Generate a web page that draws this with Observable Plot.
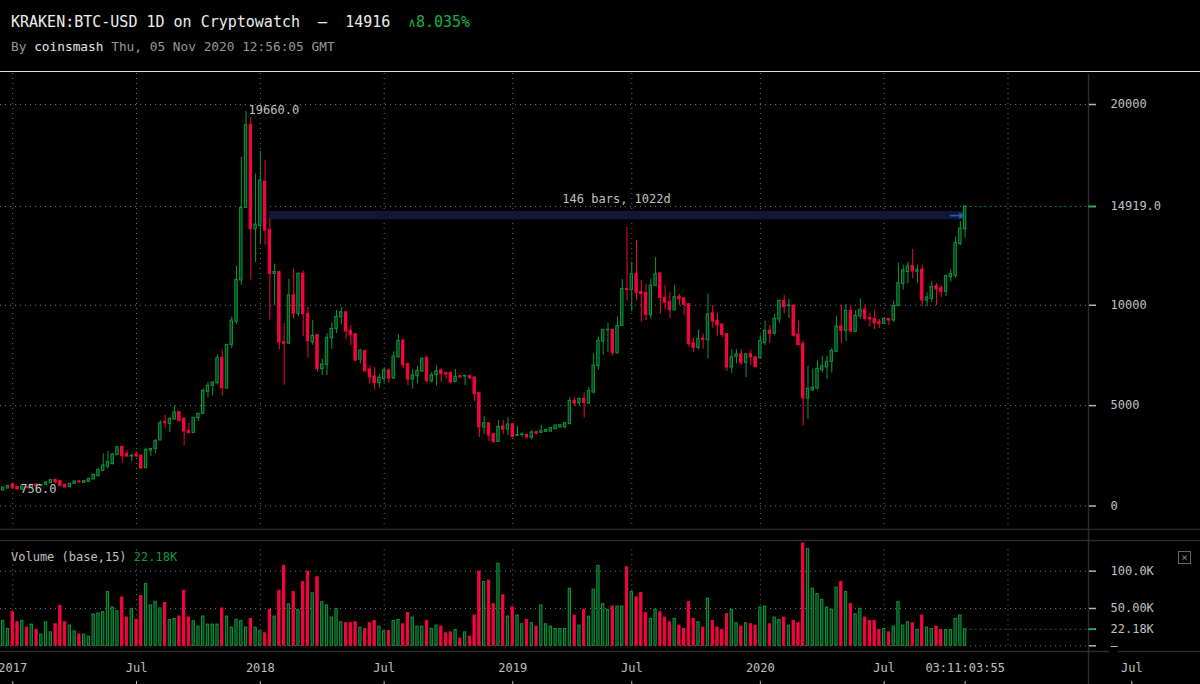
<!DOCTYPE html>
<html><head><meta charset="utf-8">
<script src="https://cdn.jsdelivr.net/npm/d3@7"></script>
<script src="https://cdn.jsdelivr.net/npm/@observablehq/plot@0.6"></script>
<style>
html,body{margin:0;padding:0;background:#000;width:1200px;height:684px;overflow:hidden;font-family:"DejaVu Sans Mono",monospace}
#head{position:absolute;left:0;top:0;width:1200px;height:71px;border-bottom:1.5px solid #ddd;box-sizing:content-box}
#t1{position:absolute;left:11px;top:13px;font-size:15px;line-height:18px;color:#eee;white-space:pre}
#t1 b{font-weight:400;color:#0cb54c}
#t1 i{font-style:normal;font-size:12.5px;color:#0cb54c}
#t2{position:absolute;left:11px;top:39px;font-size:12.8px;line-height:16px;color:#999;white-space:pre}
#t2 b{font-weight:400;color:#e4e4e4}
#price{position:absolute;left:0;top:72px}
#vol{position:absolute;left:0;top:530px}
#vl{position:absolute;left:11px;top:550px;font-size:12px;line-height:15px;color:#c0c0c0;white-space:pre}
#vl b{font-weight:400;color:#0a9a3c}
#cb{position:absolute;left:1178px;top:551px;width:11px;height:11px;border:1px solid #666;color:#888;font-size:11px;line-height:11px;text-align:center}
</style></head><body>
<div id="head">
<div id="t1">KRAKEN:BTC-USD 1D on Cryptowatch  —  14916  <i>∧</i><b>8.035%</b></div>
<div id="t2">By <b>coinsmash</b> Thu, 05 Nov 2020 12:56:05 GMT</div>
</div>
<div id="price"></div>
<div id="vol"></div>
<div id="vl">Volume (base,15) <b>22.18K</b></div>
<div id="cb">×</div>
<script>
const opens=[772,871,1070,955,805,955,905,1070,990,1055,
1137,1303,1237,1054,938,1104,1220,1154,1203,1320,
1486,1751,1967,2083,2532,2947,2598,2465,2565,2515,
1884,2764,2847,3262,4175,4092,4307,4673,4341,3727,
3644,4374,4590,5686,5985,6118,7380,5852,8027,9172,
11230,14850,18970,13790,13950,16150,13750,11560,11650,8160,
8080,10490,9570,11565,9555,8160,8510,6815,7030,8360,
8822,9400,9650,8720,8555,7295,7725,6800,6450,6120,
6320,6750,6350,7410,8240,7065,6300,6465,6700,7360,
6215,6515,6750,6615,6630,6170,6465,6450,6465,6400,
5620,3910,4125,3577,3195,3960,3810,4075,3495,3530,
3545,3395,3675,3645,3695,3710,3825,3910,3925,4075,
5235,5120,5335,5105,5650,6980,8190,8750,8770,7610,
8970,10810,10750,11545,10665,10610,9505,10965,11580,10365,
10150,9750,10430,10330,10050,8110,7875,8340,8260,9600,
9220,9040,8560,6900,7430,7560,7130,7560,7410,7360,
8125,8740,8575,9300,10215,9960,9985,8540,8060,5355,
5770,5850,6780,6915,7180,7680,8940,8725,9720,8675,
9440,9785,9370,9320,9170,9070,9320,9240,9970,11065,
11650,11945,11665,11780,10235,10315,10945,10850,10665,11395,
11460,13055,13785];
const closes=[921,1004,905,822,970,888,1020,970,1055,1170,
1287,1170,988,921,1104,1220,1170,1237,1353,1552,
1801,2017,2183,2565,2930,2482,2465,2500,2465,1868,
2797,2847,3229,4125,4125,4341,4656,4225,3710,3627,
4390,4590,5736,5985,6151,7380,5870,8027,9239,11265,
14850,18970,13790,14020,16215,13720,11560,11650,8145,8080,
10490,9570,11565,9540,8210,8475,6815,7050,8375,8822,
9420,9650,8690,8500,7245,7745,6715,6400,6120,6385,
6750,6350,7445,8225,7000,6300,6500,6730,7330,6235,
6515,6715,6565,6550,6150,6435,6400,6480,6365,5570,
3910,4125,3510,3180,3940,3810,4060,3445,3530,3560,
3410,3660,3595,3725,3790,3875,4010,4025,4125,5235,
5105,5335,5135,5720,7000,8225,8770,8770,7610,8970,
10810,10750,11545,10610,10560,9520,10980,11545,10365,10120,
9750,10400,10300,10020,8060,7875,8310,8260,9540,9190,
9000,8520,6900,7410,7560,7115,7545,7410,6915,8225,
8725,8575,9320,10215,9900,9985,8475,8010,5355,5835,
5885,6830,6950,7180,7725,8940,8725,9720,8690,9470,
9770,9320,9300,9105,9070,9320,9240,9970,11100,11730,
11930,11680,11760,10235,10385,10915,10780,10665,11445,11560,
13105,13820,14916];
const highs=[930,1020,1155,970,985,970,1040,1090,1070,1190,
1300,1336,1250,1104,1120,1235,1235,1260,1370,1590,
1850,2598,2730,2600,2960,2960,2764,2598,2681,2530,
2880,2860,3312,4240,4507,4400,4980,4690,4390,4110,
4410,4590,5840,6150,6170,7530,7780,8040,9420,11950,
17370,19660,19340,16540,17670,17200,14300,12050,11700,9090,
11300,11800,11600,11700,9900,9230,8530,7310,8590,9120,
9735,9900,9650,8990,8570,7800,7740,6960,6900,6550,
6890,6830,7680,8530,8300,7120,6800,6960,7380,7480,
6650,6980,6830,6650,6680,6800,6480,6500,6530,6420,
5640,4450,4140,3600,4250,4260,4400,4090,3950,3640,
3560,3760,3690,4020,3850,3900,4020,4040,4170,5400,
5400,5370,5640,5880,7580,8400,8780,9120,8790,9410,
11280,13880,12150,13220,11230,11050,11300,12370,11600,11000,
10620,11000,10550,10400,10070,8370,8760,8570,10566,9980,
9600,9050,8580,7790,7790,7790,7600,7760,7460,8480,
9220,8990,9560,10270,10500,10300,10000,9220,8220,6950,
6820,7240,7460,7460,7860,9450,10010,10030,9980,9720,
10320,10020,9600,9750,9300,9390,9320,10200,12100,12000,
12150,12780,12000,12000,10620,11180,11090,10980,11500,11780,
13400,14170,14965];
const lows=[756,860,820,810,790,870,900,950,980,1040,
1120,1104,970,900,925,1090,1150,1140,1190,1310,
1470,1718,1851,2050,2520,2133,2432,2216,2432,1850,
1870,2465,2615,3262,3843,3660,4290,4200,2990,3600,
3630,4190,4590,5380,5480,6035,5480,5840,7840,9050,
11000,14850,11260,12130,13070,13000,9260,10000,7790,6020,
8080,9300,9430,8450,7370,8000,6660,6500,6500,7800,
8600,9020,8270,7970,7200,7080,6640,6060,5770,5870,
6120,6100,6300,7350,6850,5980,5820,6100,6680,6120,
6120,5980,6150,6300,6080,6150,6390,6000,6300,5200,
3420,3550,3210,3130,3180,3550,3500,3380,3480,3420,
3330,3300,3580,3630,3680,3680,3810,3900,3850,4050,
4950,4970,4390,5070,5580,6770,7500,7650,7470,7580,
8970,10200,9670,10230,9150,9240,9300,10965,9540,9760,
9340,9720,9980,9500,7900,7660,7780,7820,7330,8850,
8480,8400,6700,6590,7090,7000,6400,7000,6880,7360,
8000,8100,8510,9120,9570,9340,8400,8000,3990,4300,
5700,5770,6630,6300,6620,7680,8120,8200,8640,8640,
9300,9200,8920,8780,8850,9070,8990,9150,9950,10750,
11070,11320,11100,9930,9920,10150,9980,10385,10450,11150,
11350,12970,13350];
const volumes=[33.3,22.5,45,31.5,33.3,24.3,28.4,21.2,14.9,31.5,
18,28.8,53.2,31.5,27,19.4,15.3,14.9,12.2,41.9,
43.2,45,72,51.3,46.4,64.8,37.8,49.5,34.7,66.6,
82.8,54,58.5,50,57.2,34.7,36,39.2,73.8,37.8,
32.9,25.7,39.2,28.4,28.4,28.4,50,39.2,24.3,34.7,
33.3,24.3,36,24.3,19.4,16.7,48.2,39.2,73.8,107,
55.4,72,48.2,85.5,99.5,70.2,91.8,58.5,54,37.8,
49.5,31.5,30.2,30.2,31.5,24.3,22.5,30.2,33.3,25.7,
19.4,19.8,33.3,34.7,28.8,43.7,37.8,25.7,25.7,33.3,
22.5,27,25.7,16.7,18,21.2,9.5,18,12.2,40.5,
99.5,85.5,87.3,55.8,109.8,67.5,39.2,51.3,40.5,28.8,
34.7,30.2,25.7,54,28.8,25.7,22.5,22.5,22.5,76.5,
40.5,27,48.2,39.2,75.2,107,55.8,48.2,52.6,52.6,
52.6,105.3,72,64.8,70.7,43.7,36,48.2,45,37.8,
31.5,36,27,22.5,58.5,36,31.5,24.3,63,33.3,
24.3,21.2,42.3,48.2,30.2,25.7,30.2,28.8,27,51.3,
52.6,28.8,37.8,34.7,37.8,27,33.3,30.2,137,129.6,
76.5,69.3,61.7,51.3,48.2,77.9,85.5,72,55.8,42.3,
49.5,37.8,33.3,33.3,21.2,22.5,18,25.7,58.5,27,
31.5,30.2,21.2,40.5,24.3,22.5,25.7,21.2,21.2,21.2,
36,40.5,22.18];

// x positions are bar numbers; 0 is the first bar on the left
const gridBars=[2,28,54,80,107,132,159,185,211];
const timeTicks=[2,28,54,80,107,132,159,185,202,237];
const timeLabels=["2017","Jul","2018","Jul","2019","Jul","2020","Jul","03:11:03:55","Jul"];
const priceTicks=[0,5000,10000,14919,20000];
const volumeTicks=[0,22.18,50,100];
const volumeTickLabels=["–","22.18K","50.00K","100.0K"];

const UP="#0a9a3c", UPFILL="#043a19", DOWN="#f5053f", GRID="#707070", LINE="#2b2b2b", TEXT="#c0c0c0", DIM="#0a7a32";
const XMIN=-0.567, XEDGE=227.91, XMAX=251.4, DOTS="1 4";
const font={fontFamily:"DejaVu Sans Mono, monospace",fontSize:"12px",background:"#000",color:TEXT};

const bars=opens.map((o,i)=>({i,o,c:closes[i],h:highs[i],l:lows[i],v:volumes[i],up:closes[i]>=o}));
const last=bars[bars.length-1];
const colorOf=d=>d.up?UP:DOWN;
const fillOf=d=>d.up?UPFILL:DOWN;

const pricePlot=Plot.plot({
  width:1200,height:458,marginTop:0,marginBottom:0,marginLeft:0,marginRight:112,style:font,
  x:{domain:[XMIN,XEDGE],axis:null},
  y:{domain:[0,20000],range:[433.5,32],axis:null},
  marks:[
    Plot.ruleX(gridBars,{y1:-921,y2:21544,stroke:GRID,strokeDasharray:DOTS}),
    Plot.ruleY(priceTicks,{x1:XMIN,x2:XEDGE,stroke:GRID,strokeDasharray:DOTS}),
    Plot.ruleY([14919],{x1:last.i,x2:XEDGE,stroke:DIM,strokeDasharray:"2 3"}),
    Plot.rect([{a:55.9,b:last.i,lo:14256,hi:14670}],{x1:"a",x2:"b",y1:"lo",y2:"hi",fill:"#111735"}),
    Plot.text(["146 bars, 1022d"],{x:128.8,y:15268,text:d=>d,fill:TEXT}),
    Plot.arrow([{a:198.9,b:201.6,p:14463}],{x1:"a",x2:"b",y1:"p",y2:"p",stroke:"#2f55b0",strokeWidth:1.6,headLength:8,bend:0}),
    Plot.ruleX(bars,{x:"i",y1:"l",y2:"h",stroke:colorOf,strokeWidth:1}),
    Plot.rect(bars,{x1:d=>d.i-0.25,x2:d=>d.i+0.25,y1:"o",y2:"c",fill:fillOf,stroke:colorOf,strokeWidth:1}),
    Plot.text(["19660.0"],{x:51,dx:2.5,dy:-1,y:19660,text:d=>d,textAnchor:"start",fill:TEXT}),
    Plot.text(["756.0"],{x:3.6,dy:-2,y:756,text:d=>d,textAnchor:"start",fill:TEXT}),
    Plot.ruleX([XEDGE],{y1:-1171,y2:21500,stroke:LINE,strokeWidth:1.5}),
    Plot.ruleY([-1171],{x1:XMIN,x2:XMAX,stroke:LINE,strokeWidth:1.5}),
    Plot.axisY(priceTicks,{anchor:"right",label:null,tickSize:7,tickPadding:15,strokeWidth:1.5,stroke:"#b5b5b5",color:TEXT,tickFormat:d=>d===14919?"14919.0":String(d)}),
    Plot.ruleY([14919],{x1:XEDGE,x2:229.4,stroke:"#10b04a",strokeWidth:1.5})
  ]
});
document.getElementById("price").append(pricePlot);

const volPlot=Plot.plot({
  width:1200,height:154,marginTop:0,marginBottom:33,marginLeft:0,marginRight:112,style:font,
  x:{domain:[XMIN,XEDGE],axis:null},
  y:{domain:[-7.64,154.5],range:[121,0],axis:null},
  marks:[
    Plot.ruleX(gridBars,{y1:0,y2:134,stroke:GRID,strokeDasharray:DOTS}),
    Plot.ruleY([0,50,100],{x1:XMIN,x2:XEDGE,stroke:GRID,strokeDasharray:DOTS}),
    Plot.ruleY([22.18],{x1:last.i,x2:XEDGE,stroke:DIM,strokeDasharray:"2 3"}),
    Plot.rect(bars,{x1:d=>d.i-0.24,x2:d=>d.i+0.24,y1:0,y2:"v",fill:fillOf,stroke:colorOf,strokeWidth:1}),
    Plot.ruleX([XEDGE],{y1:-51.9,y2:154.5,stroke:LINE,strokeWidth:1.5}),
    Plot.ruleY([141.2],{x1:XMIN,x2:XMAX,stroke:LINE,strokeWidth:1.5}),
    Plot.ruleY([-7.64],{x1:XMIN,x2:XMAX,stroke:LINE,strokeWidth:1.5}),
    Plot.ruleY([-7.64],{x1:232.3,x2:234.2,stroke:"#000",strokeWidth:3}),
    Plot.axisY(volumeTicks,{anchor:"right",label:null,tickSize:7,tickPadding:15,strokeWidth:1.5,stroke:"#b5b5b5",color:TEXT,tickFormat:d=>volumeTickLabels[volumeTicks.indexOf(d)]}),
    Plot.ruleY([22.18],{x1:XEDGE,x2:229.4,stroke:"#10b04a",strokeWidth:1.5}),
    Plot.text(timeTicks,{x:d=>d,y:-30.4,text:(d,i)=>timeLabels[i],fill:TEXT}),
    Plot.ruleX(timeTicks,{y1:-47.9,y2:-51.9,stroke:"#b5b5b5"})
  ]
});
document.getElementById("vol").append(volPlot);
</script>
</body></html>
